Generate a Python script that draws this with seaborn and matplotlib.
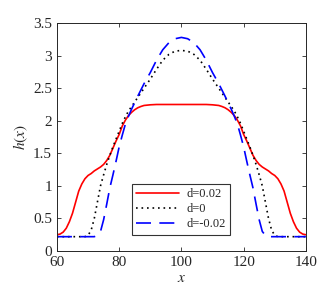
import pandas as pd
import matplotlib
matplotlib.use("Agg")
import matplotlib.pyplot as plt
import seaborn as sns


# d = 0.02 (red, solid)
x_red = [60, 61, 62, 63, 64, 65, 66, 67, 68, 69, 70, 71, 72, 73, 74, 75, 76, 77, 78, 79,
         80, 81, 82, 83, 84, 85, 86, 87, 88, 90, 92, 95, 100,
         105, 108, 110, 112, 113, 114, 115, 116, 117, 118, 119, 120, 121, 122, 123, 124,
         125, 126, 127, 128, 129, 130, 131, 132, 133, 134, 135, 136, 137, 138, 139, 140]
y_red = [0.25, 0.26, 0.29, 0.35, 0.45, 0.58, 0.75, 0.92, 1.03, 1.11, 1.16, 1.19, 1.23, 1.26,
         1.29, 1.33, 1.39, 1.47, 1.58, 1.69, 1.79, 1.92, 2.01, 2.08, 2.13, 2.17, 2.20, 2.22,
         2.235, 2.245, 2.25, 2.25, 2.25,
         2.25, 2.25, 2.245, 2.235, 2.22, 2.20, 2.17, 2.13, 2.08, 2.01, 1.92, 1.79, 1.69,
         1.58, 1.47, 1.39, 1.33, 1.29, 1.26, 1.23, 1.19, 1.16, 1.11, 1.03, 0.92, 0.75, 0.58,
         0.45, 0.35, 0.29, 0.26, 0.25]

# d = 0 (black, dotted)
x_blk = [60, 65, 69, 70, 71, 72, 73, 74, 75, 76, 77, 78, 79, 80, 81, 82, 83, 84, 85, 86,
         88, 90, 92, 94, 96, 98, 100, 102, 104, 106, 108, 110, 112, 114, 115, 116, 117, 118,
         119, 120, 121, 122, 123, 124, 125, 126, 127, 128, 129, 130, 131, 135, 140]
y_blk = [0.22, 0.22, 0.22, 0.24, 0.32, 0.50, 0.75, 1.00, 1.17, 1.33, 1.47, 1.60, 1.72, 1.84,
         1.96, 2.06, 2.15, 2.22, 2.29, 2.36, 2.50, 2.64, 2.79, 2.93, 3.02, 3.07, 3.08,
         3.07, 3.02, 2.93, 2.79, 2.64, 2.50, 2.36, 2.29, 2.22, 2.15, 2.06, 1.96, 1.84, 1.72,
         1.60, 1.47, 1.33, 1.17, 1.00, 0.75, 0.50, 0.32, 0.24, 0.22, 0.22, 0.22]

# d = -0.02 (blue, dashed)
x_blu = [60, 65, 70, 72, 73, 74, 75, 76, 77, 78, 79, 80, 81, 82, 83, 84, 85, 86, 88, 90,
         92, 94, 96, 98, 100, 102, 104, 106, 108, 110, 112, 114, 115, 116, 117, 118, 119,
         120, 121, 122, 123, 124, 125, 126, 127, 128, 130, 135, 140]
y_blu = [0.22, 0.22, 0.22, 0.22, 0.24, 0.30, 0.48, 0.72, 0.97, 1.17, 1.38, 1.60, 1.78, 1.95,
         2.07, 2.18, 2.28, 2.38, 2.57, 2.74, 2.93, 3.09, 3.20, 3.26, 3.28,
         3.26, 3.20, 3.09, 2.93, 2.74, 2.57, 2.38, 2.28, 2.18, 2.07, 1.95, 1.78, 1.60, 1.38,
         1.17, 0.97, 0.72, 0.48, 0.30, 0.24, 0.22, 0.22, 0.22, 0.22]

labels = ["d=0.02", "d=0", "d=-0.02"]

df = pd.concat([
    pd.DataFrame({"x": x_red, "h": y_red, "d": labels[0]}),
    pd.DataFrame({"x": x_blk, "h": y_blk, "d": labels[1]}),
    pd.DataFrame({"x": x_blu, "h": y_blu, "d": labels[2]}),
], ignore_index=True)

sns.set_style("ticks")
plt.rcParams["font.family"] = ["Liberation Serif", "DejaVu Serif"]
plt.rcParams["mathtext.fontset"] = "stix"

fig = plt.figure(figsize=(3.35, 2.96), dpi=100)
ax = fig.add_axes([0.170, 0.152, 0.743, 0.770])

sns.lineplot(data=df, x="x", y="h", hue="d", style="d", hue_order=labels,
             style_order=labels, sort=False, estimator=None,
             palette={labels[0]: "#ff0000", labels[1]: "black", labels[2]: "#0000ff"},
             dashes={labels[0]: "", labels[1]: (1, 2.3), labels[2]: (9, 5)},
             linewidth=1.2, ax=ax)

ax.set_xlim(60, 140)
ax.set_ylim(0, 3.5)
ax.set_xticks([60, 80, 100, 120, 140])
ax.set_yticks([0, 0.5, 1, 1.5, 2, 2.5, 3, 3.5])
ax.set_yticklabels(["0", "0.5", "1", "1.5", "2", "2.5", "3", "3.5"])
ax.tick_params(direction="in", top=True, right=True, labelsize=11, length=3,
               width=0.6, colors="#262626", labelcolor="#262626")
for s in ax.spines.values():
    s.set_linewidth(0.7)
    s.set_color("#262626")
ax.set_xlabel("$x$", fontsize=11, labelpad=2, color="#262626")
ax.set_ylabel("$h(x)$", fontsize=11, labelpad=2, color="#262626")

leg = ax.legend(loc="center", bbox_to_anchor=(0.498, 0.184), fontsize=9,
                handlelength=3.4, frameon=True, fancybox=False, borderpad=0.35,
                labelspacing=0.25, handletextpad=0.6)
leg.get_frame().set_edgecolor("black")
leg.get_frame().set_linewidth(0.8)

fig.savefig("out.png", dpi=100)
